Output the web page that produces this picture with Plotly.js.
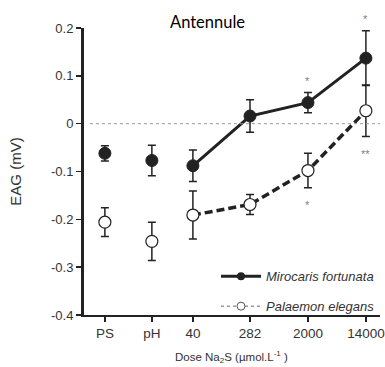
<!DOCTYPE html>
<html><head><meta charset="utf-8">
<script src="https://cdn.plot.ly/plotly-3.0.1.min.js"></script>
<style>html,body{margin:0;padding:0;background:#fff}#chart{width:385px;height:367px}</style>
</head><body><div id="chart"></div>
<script>
const categories = ["PS", "pH", "40", "282", "2000", "14000"];
const mirocarisMean = [-0.062, -0.077, -0.088, 0.016, 0.044, 0.137];
const mirocarisErr  = [0.016, 0.032, 0.033, 0.034, 0.021, 0.057];
const palaemonMean  = [-0.206, -0.246, -0.191, -0.169, -0.098, 0.027];
const palaemonErr   = [0.030, 0.040, 0.050, 0.021, 0.036, 0.054];
const upperStars = ["", "", "", "", "*", "*"];
const lowerStars = ["", "", "", "", "*", "**"];

// horizontal placement of the categories along the x axis (layout)
const xPos = [0, 0.9, 1.686, 2.78, 3.89, 5.0];
const dark = "#222222";
const ctrl = [0, 1], dose = [2, 3, 4, 5];
const pick = (arr, idx) => idx.map(i => arr[i]);

function trace(mean, err, idx, mode, marker, line) {
  return {
    x: pick(xPos, idx), y: pick(mean, idx), mode: mode, showlegend: false,
    error_y: {type: "data", array: pick(err, idx), visible: true, color: dark, thickness: 1.5, width: 4},
    marker: marker, line: line, cliponaxis: false
  };
}
const mMarker = {symbol: "circle", size: 12, color: dark, line: {color: dark, width: 1}};
const pMarker = {symbol: "circle", size: 12, color: "#ffffff", line: {color: dark, width: 1.2}};

const data = [
  trace(palaemonMean, palaemonErr, ctrl, "markers", pMarker, {}),
  trace(palaemonMean, palaemonErr, dose, "lines+markers", pMarker, {color: dark, width: 3.5, dash: "8px,4px"}),
  trace(mirocarisMean, mirocarisErr, ctrl, "markers", mMarker, {}),
  trace(mirocarisMean, mirocarisErr, dose, "lines+markers", mMarker, {color: dark, width: 3}),
  // legend entries (no data points)
  {x: [null], y: [null], mode: "lines+markers", name: "<i>Mirocaris fortunata</i>", legendgroup: "m",
   marker: {symbol: "circle", size: 8, color: dark}, line: {color: dark, width: 3}, legendrank: 1},
  {x: [null], y: [null], mode: "lines+markers", name: "<i>Palaemon elegans</i>", legendgroup: "p",
   marker: {symbol: "circle", size: 8, color: "#fff", line: {color: "#555", width: 1}}, line: {color: "#666", width: 1, dash: "dot"}, legendrank: 2}
];

const starFont = {family: "Liberation Sans", size: 11, color: "#808080"};
const annotations = [];
categories.forEach((c, i) => {
  if (upperStars[i]) annotations.push({x: xPos[i], y: mirocarisMean[i] + mirocarisErr[i], text: upperStars[i],
    showarrow: false, yanchor: "bottom", yshift: 4, font: starFont});
  if (lowerStars[i]) annotations.push({x: xPos[i], y: palaemonMean[i] - palaemonErr[i], text: lowerStars[i],
    showarrow: false, yanchor: "top", yshift: -9, font: starFont});
});
annotations.push({xref: "paper", yref: "paper", x: 0.416, y: 1.0, yanchor: "bottom", yshift: -6, showarrow: false,
  text: "Antennule", font: {family: "Lato", size: 16.5, color: "#000"}});
annotations.push({xref: "paper", yref: "paper", x: 0.497, y: 0, yanchor: "top", yshift: -32, showarrow: false,
  text: "Dose Na<sub>2</sub>S (µmol.L<sup>-1</sup> )", font: {family: "Liberation Sans", size: 11.5, color: "#333"}});

const layout = {
  width: 385, height: 367,
  margin: {l: 84, r: 5, t: 28, b: 52},
  paper_bgcolor: "#fff", plot_bgcolor: "#fff",
  showlegend: true,
  legend: {x: 1, xanchor: "right", y: -0.022, yanchor: "bottom", traceorder: "grouped", tracegroupgap: 10,
    bgcolor: "rgba(0,0,0,0)", font: {family: "Liberation Sans", size: 13, color: "#333"}, itemwidth: 40},
  xaxis: {
    range: [-0.4, 5.27], tickvals: xPos, ticktext: categories, showgrid: false, zeroline: false,
    showline: true, linewidth: 2, linecolor: dark, ticks: "outside", ticklen: 5, tickwidth: 1.5, tickcolor: dark,
    tickfont: {family: "Liberation Sans", size: 13.5, color: "#333"}
  },
  yaxis: {
    range: [-0.4, 0.2], tickvals: [-0.4, -0.3, -0.2, -0.1, 0, 0.1, 0.2],
    ticktext: ["-0.4", "-0.3", "-0.2", "-0.1", "0", "0.1", "0.2"], showgrid: false, zeroline: false,
    showline: true, linewidth: 3, linecolor: dark, ticks: "outside", ticklen: 5, tickwidth: 1.5, tickcolor: dark,
    tickfont: {family: "Liberation Sans", size: 13, color: "#333"},
    title: {text: "EAG (mV)", font: {family: "Liberation Sans", size: 15, color: "#333"}, standoff: 26}
  },
  shapes: [{type: "line", xref: "paper", yref: "y", x0: 0.02, x1: 1, y0: 0, y1: 0,
    line: {color: "#999", width: 1, dash: "dot"}}],
  annotations: annotations
};
Plotly.newPlot("chart", data, layout, {displayModeBar: false, staticPlot: true});
</script></body></html>
